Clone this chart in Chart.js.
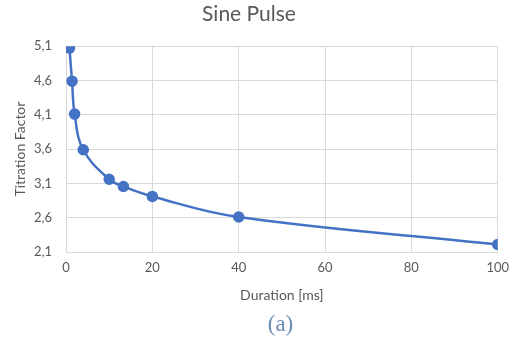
<!DOCTYPE html>
<html>
<head>
<meta charset="utf-8">
<script src="https://cdn.jsdelivr.net/npm/chart.js@4"></script>
<style>
  html, body { margin: 0; padding: 0; background: #fff; }
  #wrap { position: relative; width: 517px; height: 349px; }
  #caption {
    position: absolute; left: 0; width: 561px; top: 311px;
    text-align: center; font-family: "Liberation Serif", "DejaVu Serif", serif;
    font-size: 23px; color: #6b8fb3;
  }
</style>
</head>
<body>
<div id="wrap">
  <canvas id="chSine" width="517" height="349"></canvas>
  <div id="caption">(a)</div>
</div>
<script>
// Sine pulse titration curve
const durations = [0.8, 1.4, 2, 4, 10, 13.3, 20, 40, 100];   // ms
const titration = [5.07, 4.59, 4.11, 3.59, 3.16, 3.055, 2.91, 2.61, 2.21];
const yTicks = [2.1, 2.6, 3.1, 3.6, 4.1, 4.6, 5.1];
const xTicks = [0, 20, 40, 60, 80, 100];

const textCol = '#595959';
const gridCol = '#d9d9d9';
const fontFam = 'Lato, "Open Sans", sans-serif';

const ctx = document.getElementById('chSine').getContext('2d');
const chart = new Chart(ctx, {
  type: 'scatter',
  data: {
    datasets: [{
      data: durations.map((d, i) => ({ x: d, y: titration[i] })),
      borderColor: '#4472C4',
      backgroundColor: '#4472C4',
      borderWidth: 2.5,
      pointRadius: 4.5,
      pointHoverRadius: 4.5,
      showLine: true,
      tension: 0.4,
      fill: false
    }]
  },
  options: {
    responsive: false,
    animation: false,
    layout: { padding: { left: 0, right: 19, top: 0, bottom: 41 } },
    plugins: {
      legend: { display: false },
      tooltip: { enabled: false },
      title: {
        display: true,
        text: 'Sine Pulse',
        color: textCol,
        font: { family: fontFam, size: 21, weight: 'normal' },
        padding: { top: 2, bottom: 19 }
      }
    },
    scales: {
      x: {
        type: 'linear',
        min: 0, max: 100,
        afterBuildTicks: s => { s.ticks = xTicks.map(v => ({ value: v })); },
        afterFit: s => { s.height = 56; },
        grid: { color: gridCol, drawTicks: false },
        border: { color: gridCol },
        ticks: { color: textCol, padding: 8, font: { family: fontFam, size: 13 } },
        title: { display: true, text: 'Duration [ms]', color: textCol, padding: { top: 4, bottom: 4 },
                 font: { family: fontFam, size: 14 } }
      },
      y: {
        min: 2.1, max: 5.1,
        afterBuildTicks: s => { s.ticks = yTicks.map(v => ({ value: v })); },
        afterFit: s => { s.width = 66; },
        grid: { color: gridCol, drawTicks: false },
        border: { color: gridCol },
        ticks: {
          color: textCol, padding: 14,
          font: { family: fontFam, size: 13 },
          callback: v => v.toFixed(1).replace('.', ',')
        },
        title: { display: true, text: 'Titration Factor', color: textCol, padding: { top: 12 },
                 font: { family: fontFam, size: 14 } }
      }
    }
  }
});
</script>
</body>
</html>
